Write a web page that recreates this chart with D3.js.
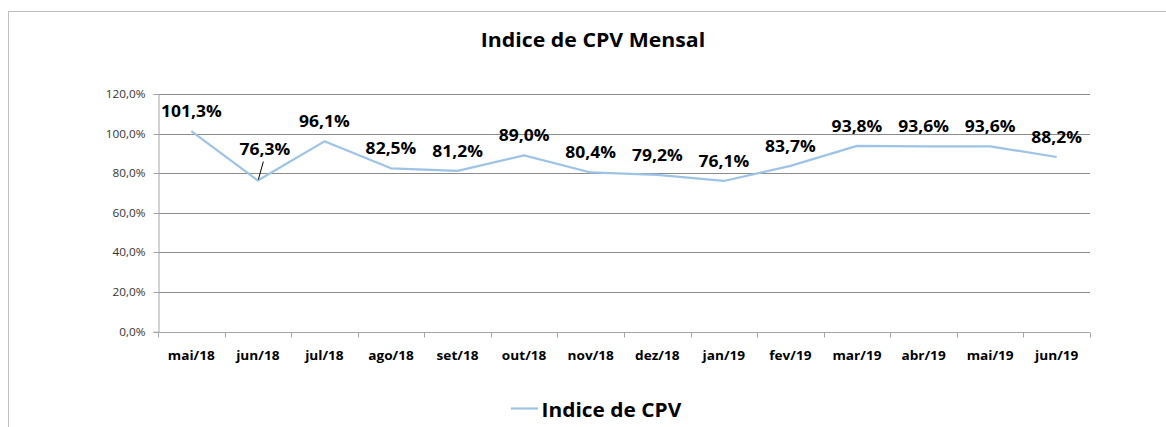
<!DOCTYPE html>
<html><head><meta charset="utf-8">
<script src="https://cdn.jsdelivr.net/npm/d3@7"></script>
<style>
html,body{margin:0;padding:0;background:#fff;}
svg{display:block;font-family:"Open Sans",sans-serif;}
</style></head>
<body>
<svg id="chart" width="1166" height="427"></svg>
<script>
const categories = ["mai/18","jun/18","jul/18","ago/18","set/18","out/18","nov/18","dez/18","jan/19","fev/19","mar/19","abr/19","mai/19","jun/19"];
const values = [101.3,76.3,96.1,82.5,81.2,89.0,80.4,79.2,76.1,83.7,93.8,93.6,93.6,88.2];
const yTicks = [0,20,40,60,80,100,120];
const seriesName = "Indice de CPV";
const title = "Indice de CPV Mensal";

const svg = d3.select("#chart");
const m = {left:158, right:1090, top:94, bottom:331.7};
const lineColor = "#9DC3E6";
const fmt = v => v.toFixed(1).replace(".", ",") + "%";
// widen text slightly to mimic the wider Calibri-like metrics of the original
function widen(sel, f){
  sel.each(function(){
    const w = this.getComputedTextLength();
    d3.select(this).attr("textLength", w*f).attr("lengthAdjust","spacingAndGlyphs");
  });
}

// outer chart border
svg.append("rect").attr("x",8.5).attr("y",11.5).attr("width",1200).attr("height",500)
  .attr("fill","#fff").attr("stroke","#bfbfbf").attr("stroke-width",1);

const x = d3.scaleBand().domain(categories).range([m.left, m.right]).padding(0);
const y = d3.scaleLinear().domain([0,120]).range([m.bottom, m.top]);

// gridlines
svg.append("g").selectAll("line").data(yTicks.filter(d=>d>0)).join("line")
  .attr("x1",m.left).attr("x2",m.right)
  .attr("y1",d=>Math.round(y(d))+0.5).attr("y2",d=>Math.round(y(d))+0.5)
  .attr("stroke","#8c8c8c").attr("stroke-width",1);

// y axis
const yAxis = svg.append("g").attr("transform",`translate(${m.left+0.5},0)`)
  .call(d3.axisLeft(y).tickValues(yTicks).tickFormat(fmt).tickSize(5).tickPadding(8));
yAxis.select(".domain").attr("stroke","#a6a6a6");
yAxis.selectAll(".tick line").attr("stroke","#a6a6a6");
const yt = yAxis.selectAll(".tick text").attr("font-size","10.5px").attr("fill","#333")
  .attr("font-family","'Open Sans', sans-serif");
yAxis.selectAll(".tick").attr("transform",d=>`translate(0,${Math.round(y(d))+0.5})`);
widen(yt, 1.12);

// x axis
const xg = svg.append("g").attr("transform",`translate(0,${Math.round(m.bottom)+0.5})`);
xg.append("line").attr("x1",m.left).attr("x2",m.right).attr("stroke","#a6a6a6");
const bounds = categories.map(c=>x(c)).concat([m.right]);
xg.selectAll("line.tk").data(bounds).join("line").attr("class","tk")
  .attr("x1",d=>Math.round(d)+0.5).attr("x2",d=>Math.round(d)+0.5).attr("y1",0).attr("y2",5)
  .attr("stroke","#a6a6a6");
const xt = xg.selectAll("text").data(categories).join("text")
  .attr("x",d=>x(d)+x.bandwidth()/2).attr("y",27)
  .attr("text-anchor","middle").attr("font-size","12.5px").attr("font-weight","bold")
  .attr("fill","#000").text(d=>d);
widen(xt, 1.09);

// line
const pts = categories.map((c,i)=>({c, v:values[i], px:x(c)+x.bandwidth()/2, py:y(values[i])}));
svg.append("path").datum(pts)
  .attr("d", d3.line().x(d=>d.px).y(d=>d.py))
  .attr("fill","none").attr("stroke",lineColor).attr("stroke-width",2.2).attr("stroke-linejoin","round");

// data labels (placed above; the jun/18 label was moved and has a leader line)
const nudge = {1:[7,-12]};
pts.forEach((p,i)=>{
  const n = nudge[i] || [0,0];
  const lx = p.px + n[0], ly = p.py - 14 + n[1];
  if (nudge[i]) {
    svg.append("line").attr("x1",lx-1.5).attr("y1",ly+7).attr("x2",p.px+0.5).attr("y2",p.py-1)
      .attr("stroke","#000").attr("stroke-width",1);
  }
  const t = svg.append("text").attr("x",lx).attr("y",ly)
    .attr("text-anchor","middle").attr("font-size","16.5px").attr("font-weight","bold")
    .attr("fill","#000").text(fmt(p.v));
  widen(t, 1.06);
});

// title
const tt = svg.append("text").attr("x",593).attr("y",46.5).attr("text-anchor","middle")
  .attr("font-size","19px").attr("font-weight","bold").attr("fill","#000").text(title);
widen(tt, 1.12);

// legend
const lg = svg.append("g");
lg.append("line").attr("x1",511).attr("x2",538).attr("y1",408.5).attr("y2",408.5)
  .attr("stroke",lineColor).attr("stroke-width",2.2);
const lt = lg.append("text").attr("x",541.5).attr("y",416.5).attr("font-size","19px")
  .attr("font-weight","bold").attr("fill","#000").text(seriesName);
widen(lt, 1.1);
</script>
</body></html>
